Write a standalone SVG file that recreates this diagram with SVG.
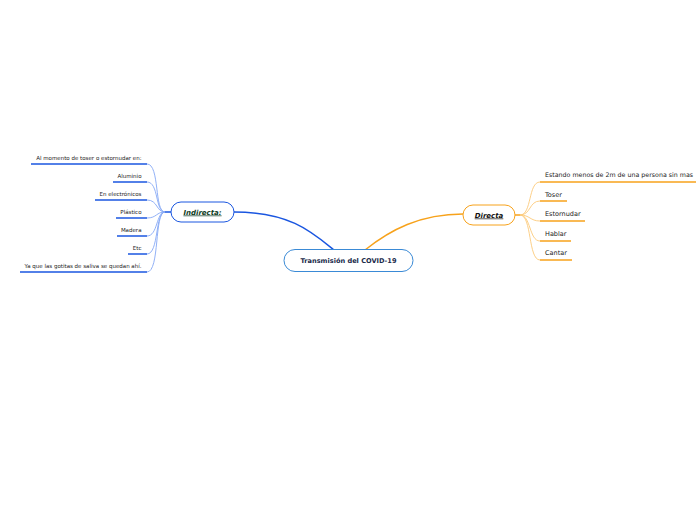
<svg xmlns="http://www.w3.org/2000/svg" width="696" height="520" viewBox="0 0 696 520">
<style>
.bg{fill:#ffffff}
.node{fill:#ffffff}
.lt{font-family:"DejaVu Sans",Verdana,sans-serif;font-size:5.5px;fill:#222222;text-anchor:end}
.rt{font-family:"DejaVu Sans",Verdana,sans-serif;font-size:6.5px;fill:#222222}
.bul{stroke:#1a56e0;stroke-width:1.5;fill:none}
.oul{stroke:#f7a21b;stroke-width:1.5;fill:none}
.bc{stroke:#86a8f5;stroke-width:0.9;fill:none}
.oc{stroke:#fcc979;stroke-width:0.9;fill:none}
</style>
<rect class="bg" x="0" y="0" width="696" height="520"/>
<g id="connectors">
<path d="M234,212 C290,212 312,232 334,250" stroke="#1a56e0" stroke-width="1.5" fill="none"/>
<path d="M463,214 C420,214 390,230 365,250" stroke="#f7a21b" stroke-width="1.5" fill="none"/>
<line x1="165" y1="212" x2="171" y2="212" stroke="#1a56e0" stroke-width="1.5"/>
<line x1="515" y1="215" x2="520" y2="215" stroke="#f7a21b" stroke-width="1.5"/>
<path class="bc" d="M147,164 C160,164 154,212 165,212"/>
<path class="bc" d="M147,182 C159,182 155,212 165,212"/>
<path class="bc" d="M147,200 C158,200 156,212 165,212"/>
<path class="bc" d="M147,218 C157,218 156,212 165,212"/>
<path class="bc" d="M147,236 C158,236 156,212 165,212"/>
<path class="bc" d="M147,254 C159,254 155,212 165,212"/>
<path class="bc" d="M147,272 C160,272 154,212 165,212"/>
<path class="oc" d="M540,182 C528,182 532,215 520,215"/>
<path class="oc" d="M540,201 C529,201 531,215 520,215"/>
<path class="oc" d="M540,221 C530,221 530,215 520,215"/>
<path class="oc" d="M540,241 C529,241 531,215 520,215"/>
<path class="oc" d="M540,260 C528,260 532,215 520,215"/>
</g>
<g id="central">
<rect class="node" x="284" y="249.5" width="129" height="22" rx="11" stroke="#3a8ad6" stroke-width="1"/>
<text x="348.5" y="263" font-family="DejaVu Sans,Verdana,sans-serif" font-size="6.6" font-weight="bold" fill="#1a2a4a" text-anchor="middle">Transmisión del COVID-19</text>
</g>
<g id="indirecta">
<rect class="node" x="171" y="202" width="63" height="20" rx="10" stroke="#1a56e0" stroke-width="1"/>
<text x="202.5" y="214.5" font-family="DejaVu Sans,Verdana,sans-serif" font-size="7" font-weight="bold" font-style="italic" text-decoration="underline" fill="#0d3b22" text-anchor="middle">Indirecta:</text>
</g>
<g id="directa">
<rect class="node" x="463" y="205" width="52" height="20" rx="10" stroke="#f7a21b" stroke-width="1"/>
<text x="489" y="217.5" font-family="DejaVu Sans,Verdana,sans-serif" font-size="7" font-weight="bold" font-style="italic" text-decoration="underline" fill="#111111" text-anchor="middle">Directa</text>
</g>
<g id="l1"><text class="lt" x="141.5" y="160">Al momento de toser o estornudar en:</text><line class="bul" x1="31" y1="164" x2="147" y2="164"/></g>
<g id="l2"><text class="lt" x="141.5" y="178">Aluminio</text><line class="bul" x1="113" y1="182" x2="147" y2="182"/></g>
<g id="l3"><text class="lt" x="141.5" y="196">En electrónicos</text><line class="bul" x1="95" y1="200" x2="147" y2="200"/></g>
<g id="l4"><text class="lt" x="141.5" y="214">Plástico</text><line class="bul" x1="116" y1="218" x2="147" y2="218"/></g>
<g id="l5"><text class="lt" x="141.5" y="232">Madera</text><line class="bul" x1="117" y1="236" x2="147" y2="236"/></g>
<g id="l6"><text class="lt" x="141.5" y="250">Etc</text><line class="bul" x1="128" y1="254" x2="147" y2="254"/></g>
<g id="l7"><text class="lt" x="141.5" y="268">Ya que las gotitas de saliva se quedan ahí.</text><line class="bul" x1="20" y1="272" x2="147" y2="272"/></g>
<g id="r1"><text class="rt" x="545" y="177" font-size="6.3" style="font-size:6.3px">Estando menos de 2m de una persona sin mas</text><line class="oul" x1="540" y1="182" x2="696" y2="182"/></g>
<g id="r2"><text class="rt" x="545" y="196.5">Toser</text><line class="oul" x1="540" y1="201" x2="567" y2="201"/></g>
<g id="r3"><text class="rt" x="545" y="216">Estornudar</text><line class="oul" x1="540" y1="221" x2="585" y2="221"/></g>
<g id="r4"><text class="rt" x="545" y="236">Hablar</text><line class="oul" x1="540" y1="241" x2="571" y2="241"/></g>
<g id="r5"><text class="rt" x="545" y="255">Cantar</text><line class="oul" x1="540" y1="260" x2="572" y2="260"/></g>
</svg>
